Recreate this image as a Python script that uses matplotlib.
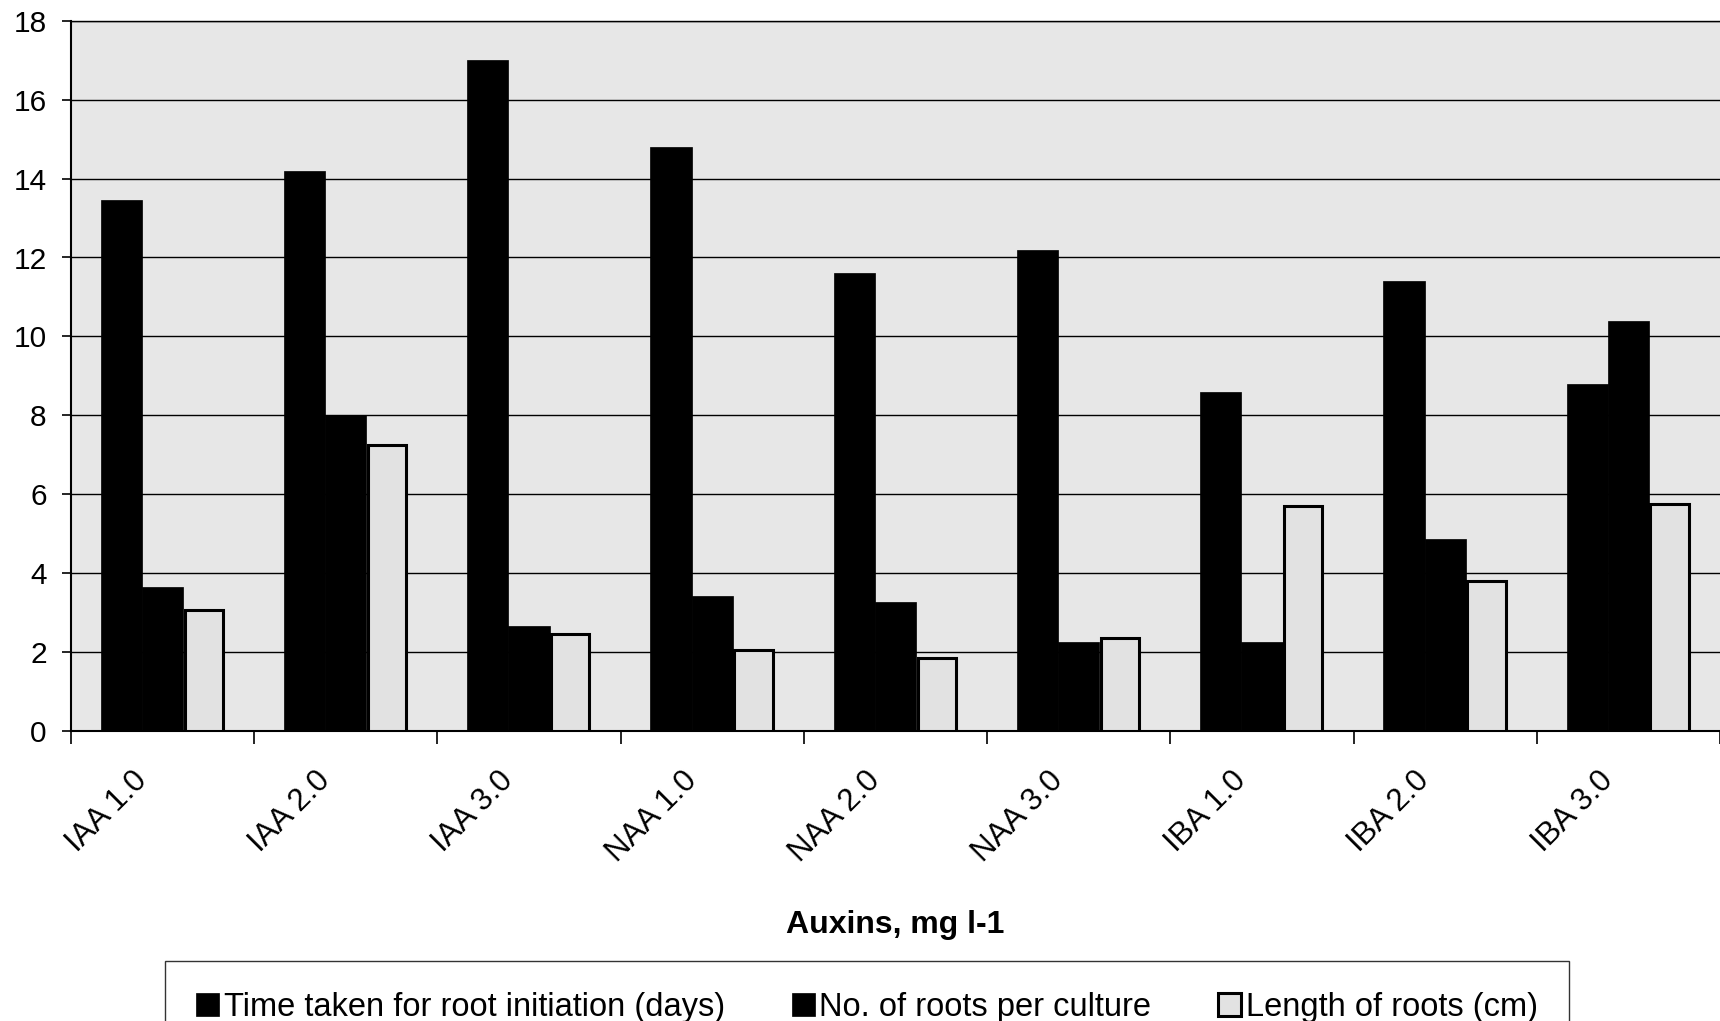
import matplotlib
matplotlib.use('Agg')
import matplotlib.pyplot as plt
import numpy as np
from matplotlib.transforms import ScaledTranslation

categories = ['IAA 1.0', 'IAA 2.0', 'IAA 3.0', 'NAA 1.0', 'NAA 2.0', 'NAA 3.0',
              'IBA 1.0', 'IBA 2.0', 'IBA 3.0']
time_days = [13.45, 14.2, 17.0, 14.8, 11.6, 12.2, 8.6, 11.4, 8.8]
roots_no = [3.65, 8.0, 2.65, 3.4, 3.25, 2.25, 2.25, 4.85, 10.4]
root_len = [3.05, 7.25, 2.45, 2.05, 1.85, 2.35, 5.7, 3.8, 5.75]
series_labels = ['Time taken for root initiation (days)', 'No. of roots per culture',
                 'Length of roots (cm)']
yticks = [0, 2, 4, 6, 8, 10, 12, 14, 16, 18]
xlabel = 'Auxins, mg l-1'

plt.rcParams['font.family'] = ['Liberation Sans', 'DejaVu Sans']

W, H = 1720, 1021
fig = plt.figure(figsize=(W / 100, H / 100), dpi=100)
ax = fig.add_axes([71 / W, 1 - 730.5 / H, 1 - 71 / W, (730.5 - 21) / H])

bg = '#e7e7e7'
ax.set_facecolor(bg)
x = np.arange(len(categories))
bw = 0.225
b1 = ax.bar(x - bw, time_days, bw, color='black', edgecolor='black', linewidth=0.5,
            label=series_labels[0], zorder=3)
b2 = ax.bar(x, roots_no, bw, color='black', edgecolor='black', linewidth=0.5,
            label=series_labels[1], zorder=3)
b3 = ax.bar(x + bw, root_len, bw * 0.93, color='#e2e2e2', edgecolor='black', linewidth=2.2,
            label=series_labels[2], zorder=3)

ax.set_xlim(-0.5, len(categories) - 0.5)
ax.set_ylim(0, 18)
ax.set_yticks(yticks)
ax.yaxis.grid(True, color='black', linewidth=1.0, zorder=1)
ax.set_axisbelow(True)
ax.tick_params(axis='y', direction='out', length=6.5, width=1.2, labelsize=21.5, pad=11,
               color='black')

# category boundary ticks (major), labels at centres (minor)
ax.set_xticks(np.arange(-0.5, len(categories), 1.0))
ax.set_xticklabels([])
ax.set_xticks(x, minor=True)
ax.set_xticklabels(categories, minor=True, rotation=45, ha='right', va='center',
                   rotation_mode='anchor', fontsize=22.5)
ax.tick_params(axis='x', which='major', direction='out', length=9, width=1.2, color='black')
ax.tick_params(axis='x', which='minor', length=0, pad=33)
shift = ScaledTranslation(-20 / 100, 0, fig.dpi_scale_trans)
for lab in ax.get_xticklabels(minor=True):
    lab.set_transform(lab.get_transform() + shift)

ax.spines['right'].set_visible(False)
ax.spines['top'].set_linewidth(1.0)
ax.spines['left'].set_linewidth(1.5)
ax.spines['bottom'].set_linewidth(1.5)

fig.text((71 + W) / 2 / W, 1 - 925 / H, xlabel, ha='center', va='center',
         fontsize=23, fontweight='bold')

leg = fig.legend(handles=[b1, b2, b3], labels=series_labels, loc='upper left',
                 bbox_to_anchor=(165 / W, 0, (1569 - 165) / W, 1 - 961 / H),
                 mode='expand', ncol=3, fontsize=23.5, frameon=True, fancybox=False,
                 edgecolor='black', borderpad=0.95, handlelength=0.7, handleheight=0.7,
                 handletextpad=0.15, columnspacing=2.0, borderaxespad=0)
leg.get_frame().set_linewidth(1.0)

fig.savefig('out.png', dpi=100, facecolor='white')
